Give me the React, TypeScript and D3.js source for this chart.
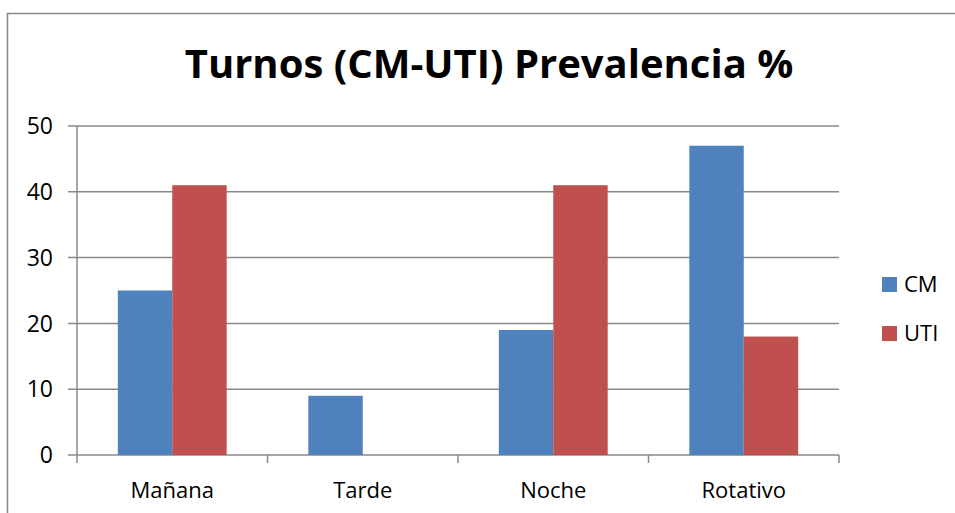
import React from 'react';
import * as d3 from 'd3';

const categories = ['Mañana', 'Tarde', 'Noche', 'Rotativo'];
const seriesNames = ['CM', 'UTI'];
const cmValues = [25, 9, 19, 47];
const utiValues = [41, 0, 41, 18];
const yTicks = [0, 10, 20, 30, 40, 50];
const colors = ['#4F81BD', '#C0504D'];
const title = 'Turnos (CM-UTI) Prevalencia %';

const W = 955;
const H = 513;
const font = '"Open Sans", sans-serif';

const App = () => {
  const margin = { left: 77, right: 839, top: 126, bottom: 455 };

  const x = d3.scaleBand<string>()
    .domain(categories)
    .range([margin.left, margin.right]);

  // excel style gap width 150%
  const barW = x.bandwidth() / 3.5;

  const y = d3.scaleLinear()
    .domain([0, 50])
    .range([margin.bottom, margin.top]);

  const series = [cmValues, utiValues];
  const boundaries = categories.map(c => x(c) as number).concat([margin.right]);

  return (
    <svg width={W} height={H} style={{ position: 'absolute', left: 0, top: 0, background: '#fff' }}>
      <rect x={7.5} y={13.5} width={W} height={H} fill="#fff" stroke="#878787" strokeWidth={1.5} />

      <text x={489} y={78} textAnchor="middle" fontFamily={font} fontWeight="bold" fontSize={40} fill="#000">
        {title}
      </text>

      {/* gridlines */}
      {yTicks.map(t => (
        <line key={'g' + t} x1={margin.left - 9} x2={margin.right} y1={y(t)} y2={y(t)} stroke="#898989" strokeWidth={1.5} />
      ))}

      {/* bars */}
      {series.map((vals, si) =>
        vals.map((v, i) => {
          const cx = (x(categories[i]) as number) + x.bandwidth() / 2;
          const bx = cx - barW + si * barW;
          return v > 0 ? (
            <rect key={si + '-' + i} x={bx} y={y(v)} width={barW} height={y(0) - y(v)} fill={colors[si]} />
          ) : null;
        })
      )}

      {/* y axis */}
      <line x1={margin.left} x2={margin.left} y1={margin.top} y2={margin.bottom} stroke="#898989" strokeWidth={1.5} />
      {yTicks.map(t => (
        <text key={'yl' + t} x={53} y={y(t)} dy="0.36em" textAnchor="end" fontFamily={font} fontSize={23} fill="#000">
          {t}
        </text>
      ))}

      {/* x axis */}
      {boundaries.map((b, i) => (
        <line key={'xt' + i} x1={b} x2={b} y1={margin.bottom} y2={margin.bottom + 8} stroke="#898989" strokeWidth={1.5} />
      ))}
      {categories.map(c => (
        <text key={c} x={(x(c) as number) + x.bandwidth() / 2} y={498} textAnchor="middle" fontFamily={font} fontSize={22} fill="#000">
          {c}
        </text>
      ))}

      {/* legend */}
      {seriesNames.map((s, i) => (
        <g key={s} transform={`translate(882, ${277 + i * 49})`}>
          <rect width={15} height={15} fill={colors[i]} />
          <text x={22} y={7.5} dy="0.36em" fontFamily={font} fontSize={22} fill="#000">{s}</text>
        </g>
      ))}
    </svg>
  );
};

export default App;
